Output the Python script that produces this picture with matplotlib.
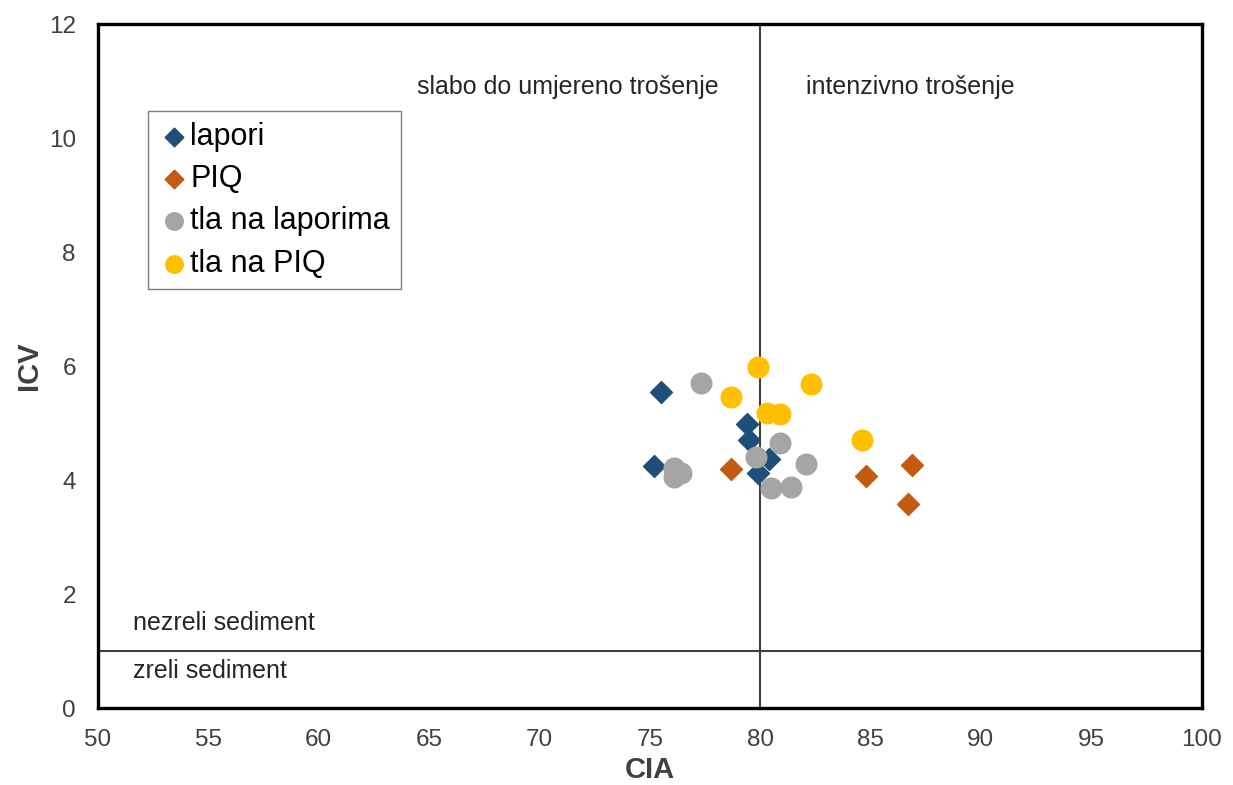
import matplotlib
matplotlib.use("Agg")
import matplotlib.pyplot as plt

plt.rcParams['font.family'] = ['Liberation Sans', 'DejaVu Sans']

# CIA / ICV values
lapori_cia = [75.5, 75.2, 79.4, 79.5, 80.4, 79.9]
lapori_icv = [5.55, 4.25, 4.98, 4.70, 4.37, 4.13]

piq_cia = [78.7, 84.8, 86.9, 86.7]
piq_icv = [4.19, 4.08, 4.27, 3.58]

tla_lap_cia = [77.3, 76.1, 76.4, 76.1, 80.9, 79.8, 82.1, 80.5, 81.4]
tla_lap_icv = [5.71, 4.21, 4.13, 4.06, 4.65, 4.41, 4.29, 3.86, 3.88]

tla_piq_cia = [79.9, 82.3, 78.7, 80.3, 80.9, 84.6]
tla_piq_icv = [5.99, 5.69, 5.46, 5.18, 5.16, 4.70]

fig = plt.figure(figsize=(12.33, 7.85), dpi=100)
ax = fig.add_axes([0.0795, 0.098, 0.895, 0.871])

# boundary lines
ax.axvline(80, color='#404040', lw=1.5, zorder=1)
ax.axhline(1, color='#404040', lw=1.5, zorder=1)

ax.scatter(lapori_cia, lapori_icv, marker='D', s=125, color='#1F4E79', label='lapori', zorder=3)
ax.scatter(piq_cia, piq_icv, marker='D', s=125, color='#C55A11', label='PIQ', zorder=3)
ax.scatter(tla_lap_cia, tla_lap_icv, marker='o', s=220, color='#A5A5A5', label='tla na laporima', zorder=3)
ax.scatter(tla_piq_cia, tla_piq_icv, marker='o', s=220, color='#FFC000', label='tla na PIQ', zorder=3)

ax.text(78.1, 10.9, 'slabo do umjereno trošenje', ha='right', va='center', fontsize=18, color='#262626')
ax.text(82.1, 10.9, 'intenzivno trošenje', ha='left', va='center', fontsize=18, color='#262626')
ax.text(51.6, 1.5, 'nezreli sediment', ha='left', va='center', fontsize=18, color='#262626')
ax.text(51.6, 0.65, 'zreli sediment', ha='left', va='center', fontsize=18, color='#262626')

ax.set_xlim(50, 100)
ax.set_ylim(0, 12)
ax.set_xticks(range(50, 101, 5))
ax.set_yticks(range(0, 13, 2))
ax.tick_params(length=0, labelsize=17.5, labelcolor='#404040')
ax.tick_params(axis='x', pad=15)
ax.tick_params(axis='y', pad=16)

for sp in ax.spines.values():
    sp.set_linewidth(2.4)
    sp.set_color('black')

ax.set_xlabel('CIA', fontsize=21, fontweight='bold', color='#404040', labelpad=4)
ax.set_ylabel('ICV', fontsize=21, fontweight='bold', color='#404040', labelpad=4)

leg = ax.legend(loc='upper left', bbox_to_anchor=(0.045, 0.873), borderaxespad=0,
                fontsize=22, fancybox=False, edgecolor='#808080', framealpha=1,
                handletextpad=0.05, handlelength=1.0, markerscale=0.85, labelspacing=0.4,
                borderpad=0.35)
leg.get_frame().set_linewidth(1.0)

fig.savefig('out.png', dpi=100)
